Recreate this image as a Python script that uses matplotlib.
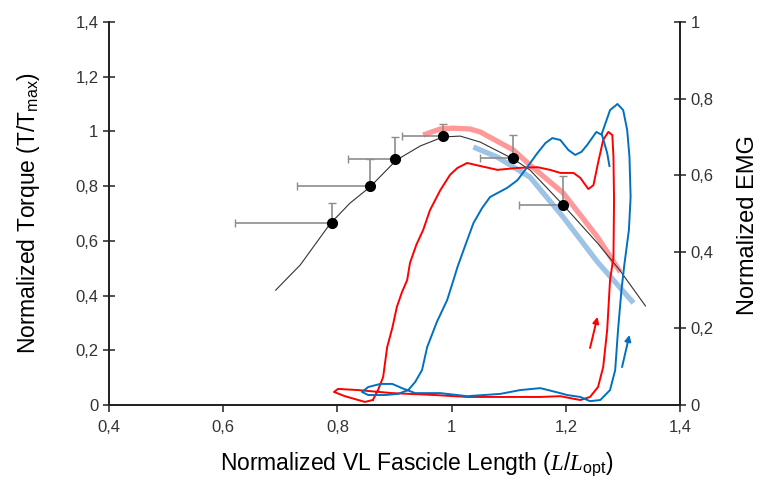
import numpy as np
import matplotlib
matplotlib.use('Agg')
import matplotlib.pyplot as plt
import matplotlib.ticker as ticker

plt.rcParams['font.family'] = ['Liberation Sans', 'DejaVu Sans']
plt.rcParams['mathtext.fontset'] = 'custom'
plt.rcParams['mathtext.rm'] = 'Liberation Sans'
plt.rcParams['mathtext.it'] = 'Liberation Serif:italic'

# mean torque-length points with one-sided SD
pts_x = [0.790, 0.857, 0.901, 0.985, 1.108, 1.195]
pts_y = [0.665, 0.800, 0.899, 0.983, 0.903, 0.731]
pts_xerr = [0.170, 0.128, 0.082, 0.072, 0.058, 0.077]
pts_yerr = [0.073, 0.100, 0.080, 0.044, 0.085, 0.106]

# fitted torque-length curve
fit_x = [0.692, 0.735, 0.787, 0.822, 0.857, 0.903, 0.945, 0.985, 1.015, 1.050,
         1.108, 1.137, 1.195, 1.255, 1.295, 1.339]
fit_y = [0.420, 0.512, 0.662, 0.738, 0.797, 0.895, 0.947, 0.980, 0.983, 0.961,
         0.899, 0.859, 0.731, 0.592, 0.490, 0.362]

# thick torque traces
pink_x = [0.950, 0.980, 1.002, 1.032, 1.050, 1.108, 1.137, 1.195, 1.255, 1.295]
pink_y = [0.987, 1.009, 1.012, 1.009, 0.998, 0.932, 0.877, 0.775, 0.614, 0.486]
lblue_x = [1.038, 1.080, 1.137, 1.195, 1.255, 1.318]
lblue_y = [0.943, 0.906, 0.833, 0.687, 0.523, 0.373]

# EMG loops (right axis)
red_x = [0.862, 0.871, 0.880, 0.887, 0.896, 0.904, 0.913, 0.922, 0.927, 0.938,
         0.950, 0.962, 0.980, 0.997, 1.010, 1.027, 1.050, 1.080, 1.115, 1.150,
         1.172, 1.190, 1.213, 1.225, 1.239, 1.248, 1.256, 1.265, 1.274, 1.281,
         1.283, 1.284, 1.283, 1.277, 1.272, 1.265, 1.256, 1.242, 1.225, 1.207,
         1.190, 1.155, 1.085, 1.027, 0.971, 0.896, 0.836, 0.801, 0.794, 0.813,
         0.848, 0.862]
red_y = [0.013, 0.039, 0.073, 0.151, 0.201, 0.256, 0.295, 0.326, 0.371, 0.418,
         0.457, 0.509, 0.561, 0.601, 0.619, 0.632, 0.624, 0.614, 0.619, 0.621,
         0.614, 0.606, 0.606, 0.593, 0.564, 0.574, 0.632, 0.692, 0.713, 0.705,
         0.648, 0.535, 0.386, 0.326, 0.196, 0.099, 0.047, 0.021, 0.013, 0.018,
         0.023, 0.021, 0.021, 0.021, 0.026, 0.031, 0.039, 0.042, 0.034, 0.023,
         0.008, 0.013]

blue_x = [1.263, 1.277, 1.290, 1.300, 1.307, 1.311, 1.313, 1.310, 1.302, 1.297,
          1.291, 1.286, 1.277, 1.260, 1.242, 1.225, 1.202, 1.190, 1.155, 1.120,
          1.085, 1.027, 0.980, 0.936, 0.913, 0.896, 0.875, 0.854, 0.843, 0.854,
          0.883, 0.906, 0.924, 0.936, 0.948, 0.957, 0.974, 0.992, 1.003, 1.010,
          1.024, 1.038, 1.053, 1.067, 1.097, 1.115, 1.132, 1.150, 1.164, 1.176,
          1.190, 1.204, 1.216, 1.227, 1.237, 1.253, 1.263, 1.272, 1.276]
blue_y = [0.710, 0.770, 0.786, 0.770, 0.718, 0.648, 0.543, 0.457, 0.366, 0.300,
          0.196, 0.091, 0.039, 0.013, 0.010, 0.021, 0.026, 0.031, 0.044, 0.039,
          0.029, 0.023, 0.031, 0.031, 0.044, 0.055, 0.055, 0.047, 0.034, 0.026,
          0.026, 0.029, 0.039, 0.060, 0.091, 0.151, 0.217, 0.274, 0.326, 0.360,
          0.418, 0.475, 0.514, 0.543, 0.567, 0.587, 0.621, 0.658, 0.684, 0.697,
          0.692, 0.666, 0.653, 0.661, 0.679, 0.713, 0.705, 0.658, 0.624]

# direction arrows (start x, start y, end x, end y)
red_arrow = [1.242, 0.149, 1.255, 0.230]
blue_arrow = [1.298, 0.099, 1.311, 0.183]

x_ticks = [0.4, 0.6, 0.8, 1.0, 1.2, 1.4]
torque_ticks = [0, 0.2, 0.4, 0.6, 0.8, 1.0, 1.2, 1.4]
emg_ticks = [0, 0.2, 0.4, 0.6, 0.8, 1.0]


def comma(v, pos):
    return ('%g' % v).replace('.', ',')


fig = plt.figure(figsize=(7.61, 4.79), dpi=100)
ax = fig.add_axes([0.143, 0.1545, 0.751, 0.7995])
ax2 = ax.twinx()

ax.plot(pink_x, pink_y, color='#ff9999', lw=3.8, solid_capstyle='butt', zorder=2)
ax.plot(lblue_x, lblue_y, color='#9dc3e6', lw=3.8, solid_capstyle='butt', zorder=2)
ax.plot(fit_x, fit_y, color='#333333', lw=0.8, zorder=3)
ax.errorbar(pts_x, pts_y, xerr=[pts_xerr, [0] * len(pts_x)],
            yerr=[[0] * len(pts_y), pts_yerr], fmt='none', ecolor='#8c8c8c',
            elinewidth=1.2, capsize=3, capthick=1.0, zorder=4)
ax.plot(pts_x, pts_y, 'o', color='black', ms=7, zorder=5)

ax2.plot(red_x, red_y, color='#ff0000', lw=1.4, zorder=3)
ax2.plot(blue_x, blue_y, color='#0070c0', lw=1.4, zorder=3)
ax2.annotate('', xy=(red_arrow[2], red_arrow[3]), xytext=(red_arrow[0], red_arrow[1]),
             arrowprops=dict(arrowstyle='-|>', color='#ff0000', lw=1.4,
                             mutation_scale=9, shrinkA=0, shrinkB=0))
ax2.annotate('', xy=(blue_arrow[2], blue_arrow[3]), xytext=(blue_arrow[0], blue_arrow[1]),
             arrowprops=dict(arrowstyle='-|>', color='#0070c0', lw=1.4,
                             mutation_scale=9, shrinkA=0, shrinkB=0))

ax.set_xlim(0.4, 1.4)
ax.set_ylim(0, 1.4)
ax2.set_ylim(0, 1.0)
ax.set_xticks(x_ticks)
ax.set_yticks(torque_ticks)
ax2.set_yticks(emg_ticks)
for a in (ax, ax2):
    a.xaxis.set_major_formatter(ticker.FuncFormatter(comma))
    a.yaxis.set_major_formatter(ticker.FuncFormatter(comma))
    a.spines['top'].set_visible(False)
    for s in a.spines.values():
        s.set_linewidth(1.3)
        s.set_color('#222222')
    a.tick_params(labelsize=12, colors='#333333', direction='out', length=5, width=1.2)
ax.tick_params(axis='y', direction='inout', length=8)
ax2.tick_params(axis='y', direction='inout', length=8)
ax.tick_params(axis='x', pad=6)

ax.set_xlabel('Normalized VL Fascicle Length ($L$/$L_{\\mathrm{opt}}$)', fontsize=16.5, labelpad=11)
ax.xaxis.label.set_x(0.538)
ax.set_ylabel('Normalized Torque (T/T$_{\\mathrm{max}}$)', fontsize=16.5, labelpad=24)
ax2.set_ylabel('Normalized EMG', fontsize=17, labelpad=17)
ax2.yaxis.label.set_y(0.47)

plt.savefig('out.png', dpi=100)
